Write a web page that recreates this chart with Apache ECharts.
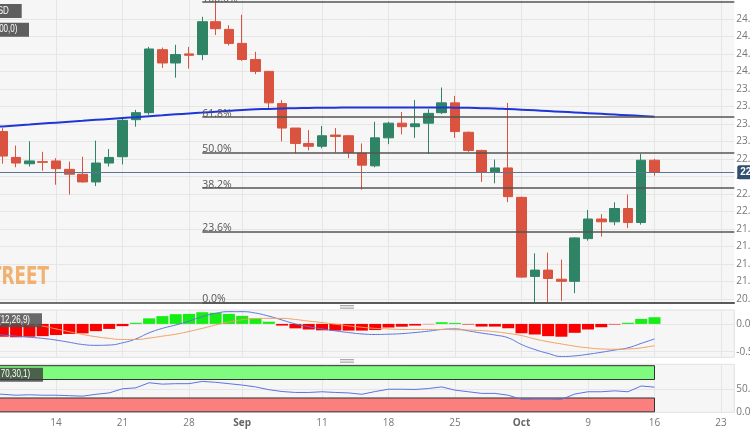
<!DOCTYPE html>
<html><head><meta charset="utf-8">
<script src="https://cdn.jsdelivr.net/npm/echarts@6/dist/echarts.min.js"></script>
<style>html,body{margin:0;padding:0;background:#fff}#c{width:750px;height:430px}</style>
</head><body><div id="c"></div>
<script>
const categories = [
'2023-08-07','2023-08-08','2023-08-09','2023-08-10','2023-08-11',
'2023-08-14','2023-08-15','2023-08-16','2023-08-17','2023-08-18',
'2023-08-21','2023-08-22','2023-08-23','2023-08-24','2023-08-25',
'2023-08-28','2023-08-29','2023-08-30','2023-08-31','2023-09-01',
'2023-09-04','2023-09-05','2023-09-06','2023-09-07','2023-09-08',
'2023-09-11','2023-09-12','2023-09-13','2023-09-14','2023-09-15',
'2023-09-18','2023-09-19','2023-09-20','2023-09-21','2023-09-22',
'2023-09-25','2023-09-26','2023-09-27','2023-09-28','2023-09-29',
'2023-10-02','2023-10-03','2023-10-04','2023-10-05','2023-10-06',
'2023-10-09','2023-10-10','2023-10-11','2023-10-12','2023-10-13',
'2023-10-16','2023-10-17','2023-10-18','2023-10-19','2023-10-20',
'2023-10-23','2023-10-24'];

const opens = [
22.95,23.14,22.77,22.68,22.71,
22.72,22.60,22.53,22.42,22.69,
22.78,23.31,23.41,24.31,24.12,
24.25,24.24,24.71,24.60,24.40,
24.17,24.00,23.54,23.19,22.97,
22.93,23.09,23.08,22.83,22.65,
23.05,23.26,23.21,23.26,23.41,
23.55,23.13,22.87,22.56,22.62,
22.20,21.07,21.16,21.03,21.00,
21.61,21.89,21.85,22.04,21.84,
22.73];
const closes = [
23.12,22.79,22.69,22.72,22.70,
22.61,22.53,22.42,22.69,22.77,
23.30,23.41,24.32,24.12,24.24,
24.23,24.71,24.61,24.40,24.17,
24.00,23.55,23.19,22.97,22.93,
23.08,23.07,22.84,22.66,23.05,
23.26,23.21,23.25,23.40,23.55,
23.14,22.87,22.56,22.62,22.21,
21.06,21.16,21.04,21.00,21.62,
21.89,21.85,22.04,21.84,22.73,
22.56];
const lows = [
22.90,22.68,22.63,22.64,22.58,
22.38,22.24,22.41,22.36,22.64,
22.67,23.21,23.38,24.05,23.91,
24.04,24.16,24.52,24.37,24.15,
23.96,23.47,23.00,22.83,22.87,
22.90,22.84,22.76,22.31,22.63,
22.96,23.10,23.05,22.82,23.39,
23.05,22.85,22.42,22.40,22.13,
21.05,20.70,20.69,20.72,20.83,
21.58,21.64,21.80,21.76,21.81,
22.51];
const highs = [
23.20,23.19,22.94,23.00,22.85,
22.76,22.71,22.78,23.01,22.89,
23.34,23.45,24.35,24.34,24.38,
24.35,24.78,25.01,24.66,24.81,
24.28,24.01,23.59,23.19,23.16,
23.22,23.19,23.09,22.97,23.28,
23.28,23.42,23.59,23.46,23.77,
23.65,23.14,22.88,22.74,23.55,
22.21,21.40,21.41,21.31,21.63,
22.02,21.96,22.13,22.24,22.82,
22.75];
const sma100 = [
23.201,23.214,23.227,23.240,23.254,
23.267,23.280,23.293,23.307,23.320,
23.333,23.346,23.360,23.373,23.386,
23.399,23.411,23.424,23.437,23.449,
23.457,23.464,23.470,23.474,23.477,
23.480,23.481,23.483,23.484,23.484,
23.484,23.484,23.484,23.483,23.483,
23.481,23.479,23.474,23.469,23.461,
23.453,23.443,23.433,23.423,23.413,
23.403,23.393,23.383,23.373,23.363,
23.353];
const macdHist = [
-0.22,-0.23,-0.24,-0.23,-0.22,
-0.20,-0.18,-0.17,-0.13,-0.09,
-0.04,0.02,0.10,0.14,0.175,
0.18,0.21,0.20,0.18,0.145,
0.10,0.04,-0.03,-0.08,-0.10,
-0.115,-0.12,-0.12,-0.12,-0.11,
-0.065,-0.05,-0.03,-0.005,0.03,
0.018,-0.01,-0.048,-0.048,-0.078,
-0.168,-0.19,-0.22,-0.23,-0.16,
-0.10,-0.06,-0.01,0.02,0.09,
0.12];
const macdLine = [
-0.17,-0.20,-0.22,-0.24,-0.26,
-0.29,-0.33,-0.37,-0.385,-0.38,
-0.34,-0.27,-0.16,-0.08,-0.02,
0.05,0.13,0.19,0.22,0.22,
0.195,0.14,0.07,0.0,-0.05,
-0.09,-0.125,-0.155,-0.18,-0.19,
-0.185,-0.175,-0.155,-0.13,-0.10,
-0.09,-0.125,-0.165,-0.20,-0.25,
-0.37,-0.46,-0.53,-0.585,-0.575,
-0.545,-0.51,-0.47,-0.43,-0.35,
-0.27];
const signalLine = [
0.05,0.03,0.01,-0.02,-0.04,
-0.09,-0.14,-0.19,-0.23,-0.26,
-0.28,-0.28,-0.255,-0.22,-0.185,
-0.135,-0.08,-0.02,0.035,0.075,
0.095,0.10,0.10,0.08,0.05,
0.025,-0.005,-0.035,-0.06,-0.08,
-0.09,-0.10,-0.10,-0.10,-0.10,
-0.105,-0.11,-0.12,-0.14,-0.17,
-0.21,-0.27,-0.32,-0.36,-0.40,
-0.43,-0.45,-0.455,-0.45,-0.43,
-0.39];
const rsi = [
40,38,36,37,36,
36,35,34,38,41,
50,52,63,60,61,
61,66,64,61,58,
54,48,44,42,42,
43.5,42,41,38,44,
49,49,48.5,50.5,54,
47,43.5,40,40,36,
27,27.5,27.5,27,38.5,
43.5,43.5,45.5,43.5,56,
53.5];

const tickDates = ['2023-08-07','2023-08-14','2023-08-21','2023-08-28','2023-09-01','2023-09-11','2023-09-18','2023-09-25','2023-10-02','2023-10-09','2023-10-16','2023-10-23'];
const tickTexts = ['7','14','21','28','Sep','11','18','25','Oct','9','16','23'];
const priceTicks = [20.75,21,21.25,21.5,21.75,22,22.25,22.5,22.75,23,23.25,23.5,23.75,24,24.25,24.5,24.75];
const macdTicks = [-0.5, 0];
const rsiTicks = [0, 50];

const fibHigh = 24.99, fibLow = 20.69;
const fibRatios = [1, 0.618, 0.5, 0.382, 0.236, 0];
const fibTexts = ['100.0%','61.8%','50.0%','38.2%','23.6%','0.0%'];
const fibStart = '2023-08-29', fibEnd = '2023-10-24';
const rsiBandEnd = '2023-10-16';

const chart = echarts.init(document.getElementById('c'), null, {renderer:'canvas', width:750, height:430});
const candleData = opens.map((o,i)=>[o, closes[i], lows[i], highs[i]]);
const lastClose = closes[closes.length-1];
const fibLevels = fibRatios.map(r => fibLow + r*(fibHigh-fibLow));
const isTick = (i, v) => tickDates.indexOf(v) >= 0;
const L = -10.5, R = 15.7;
const BG = '#f6f6f6';
const gridLine = {show:true, interval:isTick, lineStyle:{color:'#e6e6e6', width:1}};
const boxFont = '10px "Liberation Sans", Arial, sans-serif';

function xAxisFor(gi, showLabel, axisLine){
  return {
    type:'category', gridIndex:gi, data:categories, boundaryGap:false,
    axisLine: axisLine || {show:false},
    axisTick:{show:false},
    splitLine: gridLine,
    axisLabel: showLabel ? {
      show:true, interval:isTick, color:'#777', fontSize:10, margin:6,
      fontFamily:'"Open Sans", sans-serif',
      formatter: v => { const t = tickTexts[tickDates.indexOf(v)]; return /[A-Za-z]/.test(t) ? '{b|'+t+'}' : t; },
      rich:{b:{fontWeight:'bold', color:'#666', fontSize:10}}
    } : {show:false}
  };
}
function yAxisFor(gi, min, max, ticks, dec){
  return {
    type:'value', gridIndex:gi, position:'right', min:min, max:max, scale:true,
    axisLine:{show:false},
    axisTick:{show:false, customValues:ticks},
    splitLine:{show:true, lineStyle:{color:'#e6e6e6', width:1}},
    axisLabel:{show:true, customValues:ticks, color:'#777', fontSize:10, margin:2,
      fontFamily:'"Open Sans", sans-serif', formatter: v => v.toFixed(dec)}
  };
}
function boxLabel(text, x, y, pad, bg){
  return {type:'text', x:x, y:y, scaleX:0.8, z:100, silent:true,
    style:{text:text, align:'right', verticalAlign:'top', fill:'#fff', font:boxFont, lineHeight:12,
           backgroundColor:bg, padding:[1,pad,1,4]}};
}

const option = {
  animation:false,
  backgroundColor:'#ffffff',
  grid:[
    {left:L, right:R, top:0, height:303, show:true, backgroundColor:BG, borderWidth:0, outerBoundsMode:'none', containLabel:false},
    {left:L, right:R, top:310, height:47.3, show:true, backgroundColor:BG, borderColor:'#e0e0e0', borderWidth:1, outerBoundsMode:'none', containLabel:false},
    {left:L, right:R, top:364.3, height:48, show:true, backgroundColor:BG, borderColor:'#e0e0e0', borderWidth:1, outerBoundsMode:'none', containLabel:false}
  ],
  xAxis:[
    xAxisFor(0, false, {show:true, onZero:false, lineStyle:{color:'#444', width:1.5}}),
    xAxisFor(1, false),
    xAxisFor(2, true)
  ],
  yAxis:[
    yAxisFor(0, 20.69, 25.02, priceTicks, 2),
    yAxisFor(1, -0.6, 0.25, macdTicks, 1),
    yAxisFor(2, -1, 103, rsiTicks, 1)
  ],
  series:[
    {
      type:'candlestick', xAxisIndex:0, yAxisIndex:0, data:candleData, barWidth:10,
      itemStyle:{color:'#2f8466', color0:'#d9533f', borderColor:'#2f8466', borderColor0:'#d9533f', borderWidth:1},
      markLine:{
        silent:true, symbol:['none','none'], animation:false,
        data: fibLevels.map((lv,i)=>[
          {coord:[fibStart, lv], lineStyle:{color:'#555', width:1.5, type:'solid'},
           label:{show:true, position:'insideStartTop', formatter:fibTexts[i], color:'#555', fontSize:10.5, distance:[0,-2], fontFamily:'"Open Sans", sans-serif'}},
          {coord:[fibEnd, lv]}
        ]).concat([
          {yAxis:lastClose, lineStyle:{color:'#5c7594', width:1, type:'solid'},
           label:{show:true, position:'end', formatter:lastClose.toFixed(2), backgroundColor:'#2f4d6e', color:'#fff',
                  padding:[2,3,2,3], fontSize:10, fontWeight:'bold', distance:3, borderRadius:2}}
        ])
      }
    },
    {
      type:'line', xAxisIndex:0, yAxisIndex:0, data:sma100, smooth:true, symbol:'none',
      lineStyle:{color:'#1f35d6', width:2}, z:3
    },
    {
      type:'bar', xAxisIndex:1, yAxisIndex:1, data:macdHist, barWidth:12,
      itemStyle:{color: p => p.value >= 0 ? '#14ee14' : '#fa0000'}
    },
    {
      type:'line', xAxisIndex:1, yAxisIndex:1, data:macdLine, smooth:true, symbol:'none',
      lineStyle:{color:'#5b73e0', width:1}, z:4
    },
    {
      type:'line', xAxisIndex:1, yAxisIndex:1, data:signalLine, smooth:true, symbol:'none',
      lineStyle:{color:'#f0a060', width:1}, z:4
    },
    {
      type:'line', xAxisIndex:2, yAxisIndex:2, data:rsi, symbol:'none',
      lineStyle:{color:'#5b73e0', width:1}, z:4,
      markArea:{
        silent:true,
        data:[
          [{xAxis:categories[0], yAxis:70, itemStyle:{color:'#7ffb7f', borderColor:'#333', borderWidth:1}}, {xAxis:rsiBandEnd, yAxis:100}],
          [{xAxis:categories[0], yAxis:30, itemStyle:{color:'#fb7f7f', borderColor:'#333', borderWidth:1}}, {xAxis:rsiBandEnd, yAxis:0}]
        ]
      }
    }
  ],
  graphic:[
    {type:'text', x:49, y:290, scaleX:0.78, z:1, silent:true,
     style:{text:'FXSTREET', align:'right', verticalAlign:'bottom', fill:'rgba(240,160,80,0.8)', font:'bold 24px "Liberation Sans Narrow", "DejaVu Sans Condensed", sans-serif'}},
    boxLabel('XAGUSD', 21.7, 4, 16, 'rgba(80,80,80,0.92)'),
    boxLabel('SMA(100,0)', 29, 22.7, 14.5, 'rgba(80,80,80,0.92)'),
    boxLabel('MACD(12,26,9)', 42, 313.3, 15, 'rgba(80,80,80,0.85)'),
    boxLabel('RSI(14,70,30,1)', 43, 367.7, 16, 'rgba(60,60,60,0.8)'),
    {type:'rect', shape:{x:340, y:305, width:14, height:1.3}, style:{fill:'#aaa'}, silent:true},
    {type:'rect', shape:{x:340, y:307.5, width:14, height:1.3}, style:{fill:'#aaa'}, silent:true},
    {type:'rect', shape:{x:340, y:359, width:14, height:1.3}, style:{fill:'#aaa'}, silent:true},
    {type:'rect', shape:{x:340, y:361.5, width:14, height:1.3}, style:{fill:'#aaa'}, silent:true}
  ]
};
chart.setOption(option);
</script>
</body></html>
